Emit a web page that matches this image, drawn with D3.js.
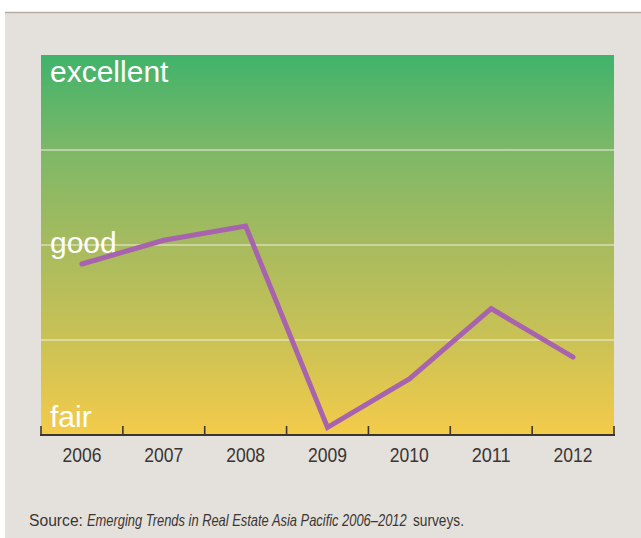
<!DOCTYPE html>
<html>
<head>
<meta charset="utf-8">
<script src="https://cdn.jsdelivr.net/npm/d3@7"></script>
<style>
  html, body { margin: 0; padding: 0; background: #fff; }
  svg { display: block; }
</style>
</head>
<body>
<svg class="chart"></svg>
<script>
let years = ['2006', '2007', '2008', '2009', '2010', '2011', '2012'];
let values = [1.8, 2.05, 2.2, 0.08, 0.59, 1.33, 0.82];
let levelLabels = ['fair', 'good', 'excellent'];
let levelValues = [0, 2, 4];
let gridValues = [1, 2, 3];

let width = 641, height = 538;
let plotLeft = 41, plotRight = 614, plotTop = 55, plotBottom = 435;

let svg = d3.select('.chart')
      .attr('width', width)
      .attr('height', height);

// panel background
svg.append('rect')
    .attr('x', 5).attr('y', 12)
    .attr('width', width - 5).attr('height', height - 12)
    .attr('fill', '#e4e1dc');
svg.append('line')
    .attr('x1', 5).attr('x2', width)
    .attr('y1', 12.5).attr('y2', 12.5)
    .attr('stroke', '#b3ada6').attr('stroke-width', 1.5);

let x = d3.scaleBand()
      .domain(years)
      .range([plotLeft, plotRight]);

let y = d3.scaleLinear()
      .domain([0, 4])
      .range([plotBottom, plotTop]);

let grad = svg.append('defs').append('linearGradient')
      .attr('id', 'bg')
      .attr('x1', 0).attr('x2', 0).attr('y1', 0).attr('y2', 1);
[['0%', '#40b36b'], ['25%', '#7db867'], ['50%', '#a7bb5e'], ['75%', '#cac255'], ['100%', '#f4cb4a']]
  .forEach(s => grad.append('stop').attr('offset', s[0]).attr('stop-color', s[1]));

svg.append('rect')
    .attr('x', plotLeft).attr('y', plotTop)
    .attr('width', plotRight - plotLeft).attr('height', plotBottom - plotTop)
    .attr('fill', 'url(#bg)');

// gridlines
svg.selectAll('.grid')
    .data(gridValues)
  .enter().append('line')
    .attr('x1', plotLeft).attr('x2', plotRight)
    .attr('y1', d => y(d)).attr('y2', d => y(d))
    .attr('stroke', '#f2efe6').attr('stroke-width', 1.2);

// level labels
svg.selectAll('.level')
    .data(levelValues)
  .enter().append('text')
    .attr('x', 50)
    .attr('y', (d, i) => i === 0 ? y(d) - 8 : (i === 1 ? y(d) + 8 : y(d) + 27))
    .attr('fill', '#fff')
    .attr('font-family', '"Liberation Sans", Arial, sans-serif')
    .attr('font-size', '30px')
    .text((d, i) => levelLabels[i]);

// line
let line = d3.line()
      .x((d, i) => x(years[i]) + x.bandwidth() / 2)
      .y(d => y(d));

svg.append('path')
    .datum(values)
    .attr('d', line)
    .attr('fill', 'none')
    .attr('stroke', '#a863ae')
    .attr('stroke-width', 5)
    .attr('stroke-linecap', 'round')
    .attr('stroke-linejoin', 'miter');

// x axis
let tickPos = years.map(d => x(d)).concat([plotRight]);
svg.append('line')
    .attr('x1', plotLeft - 1).attr('x2', plotRight + 1)
    .attr('y1', plotBottom).attr('y2', plotBottom)
    .attr('stroke', '#3b3631').attr('stroke-width', 2);
svg.selectAll('.tick')
    .data(tickPos)
  .enter().append('line')
    .attr('x1', d => d).attr('x2', d => d)
    .attr('y1', plotBottom - 9).attr('y2', plotBottom)
    .attr('stroke', '#3b3631').attr('stroke-width', 1.6);

// narrow text: squeeze horizontally to a given width
function squeeze(sel, len) {
  sel.each(function(d) {
    let w = this.getComputedTextLength();
    let target = typeof len === 'function' ? len(d) : len;
    let t = d3.select(this);
    let tx = +t.attr('data-x'), ty = +t.attr('data-y');
    t.attr('transform', 'translate(' + tx + ',' + ty + ') scale(' + (target / w) + ',1)');
  });
}

svg.selectAll('.year')
    .data(years)
  .enter().append('text')
    .attr('data-x', d => x(d) + x.bandwidth() / 2 - 19.5)
    .attr('data-y', 462)
    .attr('fill', '#3a3632')
    .attr('font-family', '"Liberation Sans", Arial, sans-serif')
    .attr('font-size', '21px')
    .text(d => d)
    .call(squeeze, 39);

// source note, in three pieces
let noteParts = [
  { text: 'Source:', x: 29, len: 54, italic: false },
  { text: 'Emerging Trends in Real Estate Asia Pacific 2006\u20132012', x: 87, len: 320, italic: true },
  { text: 'surveys.', x: 413, len: 51, italic: false }
];
svg.selectAll('.note')
    .data(noteParts)
  .enter().append('text')
    .attr('data-x', d => d.x).attr('data-y', 526)
    .attr('fill', '#3a3632')
    .attr('font-family', '"Liberation Sans", Arial, sans-serif')
    .attr('font-size', '16.5px')
    .attr('font-style', d => d.italic ? 'italic' : 'normal')
    .text(d => d.text)
    .call(squeeze, d => d.len);
</script>
</body>
</html>
